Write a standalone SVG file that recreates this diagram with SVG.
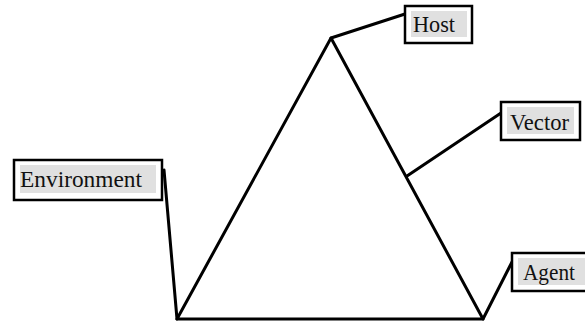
<svg xmlns="http://www.w3.org/2000/svg" width="585" height="323" viewBox="0 0 585 323">
<style>
.ln{stroke:#000;stroke-width:3;fill:none;stroke-linecap:round;stroke-linejoin:round}
.box{fill:#fff;stroke:#000;stroke-width:2.5}
.inner{fill:#e0e0e0}
.t{font-family:'Liberation Serif','DejaVu Serif',Times,serif;font-size:23px;fill:#111}
</style>
<rect width="585" height="323" fill="#fff"/>
<g id="connectors">
<polygon class="ln" points="331,38 177,319 483,319"/>
<line class="ln" x1="331" y1="38" x2="405" y2="14"/>
<line class="ln" x1="407" y1="176" x2="501" y2="113"/>
<line class="ln" x1="164" y1="170" x2="177" y2="319"/>
<line class="ln" x1="483" y1="319" x2="512" y2="262"/>
</g>
<g id="host">
<rect class="box" x="405" y="6" width="67" height="37"/>
<rect class="inner" x="411" y="11" width="56" height="26"/>
<text class="t" x="413" y="32" textLength="42" lengthAdjust="spacingAndGlyphs">Host</text>
</g>
<g id="vector">
<rect class="box" x="501" y="102" width="79" height="38"/>
<rect class="inner" x="507" y="107" width="67" height="27"/>
<text class="t" x="510" y="130" textLength="59" lengthAdjust="spacingAndGlyphs">Vector</text>
</g>
<g id="environment">
<rect class="box" x="14" y="160" width="148" height="40"/>
<rect class="inner" x="20" y="165" width="136" height="28"/>
<text class="t" x="20" y="187" textLength="122" lengthAdjust="spacingAndGlyphs">Environment</text>
</g>
<g id="agent">
<rect class="box" x="512" y="253" width="80" height="38"/>
<rect class="inner" x="518" y="258" width="67" height="27"/>
<text class="t" x="523" y="280" textLength="52" lengthAdjust="spacingAndGlyphs">Agent</text>
</g>
</svg>
